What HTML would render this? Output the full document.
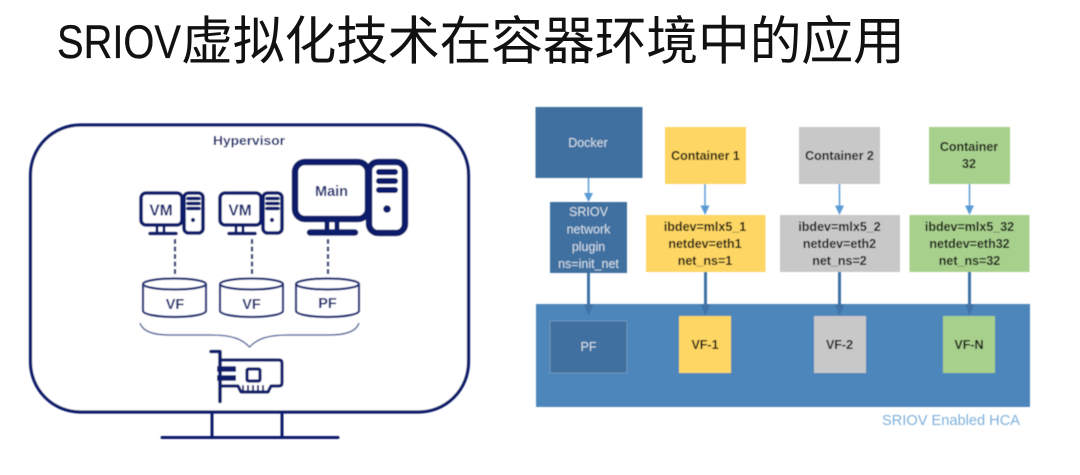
<!DOCTYPE html>
<html><head><meta charset="utf-8"><style>
html,body{margin:0;padding:0;background:#fff;width:1080px;height:475px;overflow:hidden}
svg{display:block}
text{font-family:"Liberation Sans","Noto Sans CJK SC",sans-serif}
</style></head><body>
<svg width="1080" height="475" viewBox="0 0 1080 475" xmlns="http://www.w3.org/2000/svg">
<defs>
<filter id="b" x="-5%" y="-5%" width="110%" height="110%"><feGaussianBlur stdDeviation="0.45"/></filter>
<g id="pc" fill="none" stroke="#0d1f6b">
 <rect x="141" y="193" width="41" height="32" rx="5" stroke-width="3.600" fill="#fff"/>
 <path d="M157 226v6M164 226v6" stroke-width="2.800"/>
 <path d="M150 233.500h26" stroke-width="3.600" stroke-linecap="round"/>
 <rect x="184" y="193" width="19" height="40" rx="4.500" stroke-width="3.600" fill="#fff"/>
 <path d="M188 198.500h11M188 203.500h11M188 208.500h11" stroke-width="3.600" stroke-linecap="round"/>
 <circle cx="193" cy="220" r="2.100" fill="#0d1f6b" stroke="none"/>
</g>
<g id="cyl" fill="#fff" stroke="#1b2f77" stroke-width="2.200">
 <path d="M143 284v27c0 3 13 6 31.500 6s31.500-3 31.500-6v-27"/>
 <ellipse cx="174.500" cy="284" rx="31.500" ry="5.500"/>
</g>
</defs>

<text x="57" y="58" font-size="47" fill="#111" stroke="#111" stroke-width="0.300" textLength="124" lengthAdjust="spacingAndGlyphs">SRIOV</text>
<text x="181" y="59.500" font-size="52" fill="#111" style="font-family:'Noto Sans CJK SC',sans-serif" textLength="724" lengthAdjust="spacing">虚拟化技术在容器环境中的应用</text>

<g filter="url(#b)">
<!-- monitor -->
<rect x="30.500" y="125" width="438" height="287" rx="50" fill="#fff" stroke="#0d1f6b" stroke-width="3.200"/>
<path d="M212 412v25M282 412v25" stroke="#0d1f6b" stroke-width="3" fill="none"/>
<path d="M162 437.500h176" stroke="#0d1f6b" stroke-width="3" stroke-linecap="round"/>
<text x="249" y="145" font-size="13" font-weight="700" fill="#14276f" text-anchor="middle" textLength="72" lengthAdjust="spacingAndGlyphs">Hypervisor</text>

<use href="#pc"/>
<use href="#pc" x="79"/>
<text x="161" y="215.500" font-size="15.500" font-weight="700" fill="#14276f" text-anchor="middle">VM</text>
<text x="240" y="215.500" font-size="15.500" font-weight="700" fill="#14276f" text-anchor="middle">VM</text>

<!-- main pc -->
<g fill="none" stroke="#0d1f6b">
 <rect x="295" y="162" width="73" height="57" rx="10" stroke-width="6.500" fill="#fff"/>
 <path d="M327 221v9M337 221v9" stroke-width="5"/>
 <path d="M310 232.500h45" stroke-width="6.500" stroke-linecap="round"/>
 <rect x="369" y="162" width="36" height="71" rx="9" stroke-width="6.500" fill="#fff"/>
 <path d="M379 172h16M379 181h16M379 190h16" stroke-width="6" stroke-linecap="round"/>
 <circle cx="387" cy="209" r="3.800" fill="#0d1f6b" stroke="none"/>
</g>
<text x="331.500" y="196" font-size="14.500" font-weight="700" fill="#14276f" text-anchor="middle">Main</text>

<!-- dashed -->
<path d="M175 239v36M252 239v36M328 239v36" stroke="#14276f" stroke-width="2.200" stroke-dasharray="5 2.500" fill="none"/>

<use href="#cyl"/>
<use href="#cyl" x="77"/>
<use href="#cyl" x="153"/>
<text x="175" y="309" font-size="14.500" font-weight="700" fill="#14276f" text-anchor="middle">VF</text>
<text x="251.500" y="309" font-size="14.500" font-weight="700" fill="#14276f" text-anchor="middle">VF</text>
<text x="327.500" y="308" font-size="14.500" font-weight="700" fill="#14276f" text-anchor="middle">PF</text>

<!-- brace -->
<path d="M140 323c3 9 14 12 30 12h40c22 0 32 4 39.500 12c7.500-8 17.500-12 39.500-12h40c16 0 27-3 30-12" fill="none" stroke="#5f6ea3" stroke-width="1.500"/>

<!-- NIC -->
<g fill="none" stroke="#0d1f6b" stroke-linecap="round" stroke-linejoin="round">
 <path d="M211 351.500h9v50" stroke-width="3.600"/>
 <path d="M220 360h59c2 0 3 1 3 3v20c0 2-1 3-3 3h-8l-3 6h-27l-3-6h-18" stroke-width="3.200"/>
 <path d="M217 369h19M217 378h19" stroke-width="5.500" stroke-linecap="butt"/>
 <rect x="247" y="369" width="13" height="12" rx="1.500" stroke-width="3.200"/>
 <path d="M243 386v5M248 386v5M253 386v5M258 386v5M263 386v5" stroke-width="2"/>
</g>

<!-- right diagram -->
<rect x="536" y="304" width="494" height="103" fill="#4d86ba"/>
<rect x="535.500" y="107" width="107" height="71" fill="#3f6f9f"/>
<rect x="550" y="202" width="77" height="71" fill="#3f6f9f"/>
<rect x="550" y="321" width="77" height="52" fill="#3f6f9f" stroke="#6d97bf" stroke-width="1"/>

<rect x="665" y="127" width="81" height="57" fill="#fdd663"/>
<rect x="646" y="215" width="119.500" height="57" fill="#fdd663"/>
<rect x="679" y="316" width="52" height="57" fill="#fdd663"/>

<rect x="799" y="127" width="81" height="57" fill="#c8c8c8"/>
<rect x="780" y="215" width="120" height="57" fill="#c8c8c8"/>
<rect x="814" y="316" width="52" height="57" fill="#c8c8c8"/>

<rect x="929" y="127" width="81" height="57" fill="#a8d08d"/>
<rect x="909.500" y="215" width="120" height="57" fill="#a8d08d"/>
<rect x="943" y="316" width="52" height="57" fill="#a8d08d"/>

<!-- thin arrows -->
<g stroke="#5b9bd5" stroke-width="1.500" fill="#5b9bd5">
 <path d="M588.500 178v16" fill="none"/><path d="M584 193h9l-4.500 9z" stroke="none"/>
 <path d="M705 184v23" fill="none"/><path d="M700.500 205.500h9l-4.500 9.500z" stroke="none"/>
 <path d="M839.500 184v23" fill="none"/><path d="M835 205.500h9l-4.500 9.500z" stroke="none"/>
 <path d="M969.500 184v23" fill="none"/><path d="M965 205.500h9l-4.500 9.500z" stroke="none"/>
</g>
<!-- thick arrows -->
<g stroke="#3f73a5" stroke-width="3" fill="#3f73a5">
 <path d="M588.500 273v37" fill="none"/><path d="M584 304.500h9.500l-5 11z" stroke="none"/>
 <path d="M705.500 272v35" fill="none"/><path d="M700.500 304.500h10l-5 11z" stroke="none"/>
 <path d="M839.500 272v35" fill="none"/><path d="M835 304.500h9.500l-5 11z" stroke="none"/>
 <path d="M969.500 272v35" fill="none"/><path d="M965 304.500h9.500l-5 11z" stroke="none"/>
</g>

<g font-size="12.500" text-anchor="middle" fill="#d3deea">
 <text x="588" y="147">Docker</text>
 <text x="588.500" y="216">SRIOV</text>
 <text x="588.500" y="233.500">network</text>
 <text x="588.500" y="251">plugin</text>
 <text x="588.500" y="268">ns=init_net</text>
 <text x="588.500" y="351">PF</text>
</g>
<g font-size="12.500" font-weight="700" text-anchor="middle" fill="#111">
 <text x="705.500" y="160">Container 1</text>
 <text x="705" y="231">ibdev=mlx5_1</text>
 <text x="705" y="248">netdev=eth1</text>
 <text x="705" y="265">net_ns=1</text>
 <text x="705" y="349">VF-1</text>
 <text x="839.500" y="160">Container 2</text>
 <text x="839.500" y="231">ibdev=mlx5_2</text>
 <text x="839.500" y="248">netdev=eth2</text>
 <text x="839.500" y="265">net_ns=2</text>
 <text x="839.500" y="349">VF-2</text>
 <text x="969" y="151">Container</text>
 <text x="969" y="168">32</text>
 <text x="969.500" y="231">ibdev=mlx5_32</text>
 <text x="969.500" y="248">netdev=eth32</text>
 <text x="969.500" y="265">net_ns=32</text>
 <text x="969" y="349">VF-N</text>
</g>
<text x="882" y="425" font-size="14.500" fill="#7fb0db" textLength="138" lengthAdjust="spacingAndGlyphs">SRIOV Enabled HCA</text>
</g>
</svg>
</body></html>
